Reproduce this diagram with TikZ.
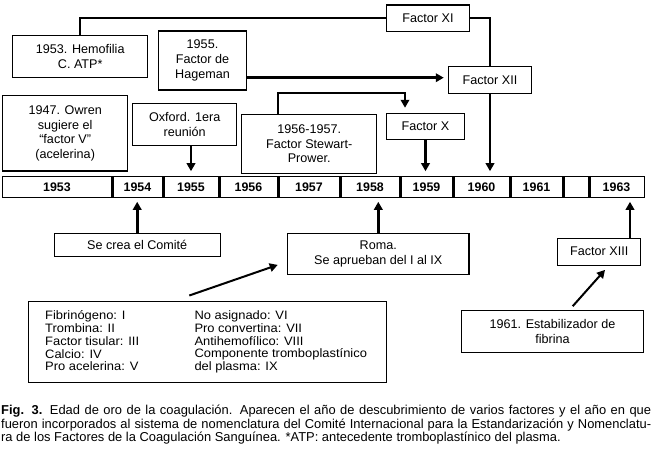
\documentclass[tikz,border=0pt]{standalone}
\usepackage{fontspec}
\setmainfont{Liberation Sans}
\newfontfamily\listfam[FakeStretch=1.06]{Liberation Sans}
\usetikzlibrary{arrows.meta,calc}
\begin{document}
\begin{tikzpicture}[x=1pt,y=-1pt,
  box/.style={draw,line width=1.1pt,inner sep=0pt,align=center,font=\fontsize{12.6}{14.6}\selectfont},
  yr/.style={draw,line width=1pt,inner sep=0pt,minimum height=20.6pt,font=\bfseries\fontsize{12.4}{13}\selectfont},
  arr/.style={line width=2.6pt,-{Triangle[length=8pt,width=8.5pt]}},
  thinarr/.style={line width=2pt,-{Triangle[length=8pt,width=8.5pt]}},
  lnk/.style={line width=2pt},
  divider/.style={line width=2.8pt},
  listtxt/.style={anchor=north west,align=left,inner sep=0pt,font=\listfam\fontsize{12.2}{12.8}\selectfont},
]
\useasboundingbox (0,0) rectangle (653,450);

% timeline
\node[yr,minimum width=110pt] (c1953) at (57,187) {1953};
\node[yr,minimum width=51pt] (c1954) at (137.5,187) {1954};
\node[yr,minimum width=56pt] (c1955) at (191,187) {1955};
\node[yr,minimum width=59pt] (c1956) at (248.5,187) {1956};
\node[yr,minimum width=62pt] (c1957) at (309,187) {1957};
\node[yr,minimum width=60pt] (c1958) at (370,187) {1958};
\node[yr,minimum width=53pt] (c1959) at (426.5,187) {1959};
\node[yr,minimum width=57pt] (c1960) at (481.5,187) {1960};
\node[yr,minimum width=53pt] (c1961) at (536.5,187) {1961};
\node[yr,minimum width=26pt] (c1962) at (576,187) {};
\node[yr,minimum width=55pt] (c1963) at (616.5,187) {1963};
\foreach \c in {c1953,c1954,c1955,c1956,c1957,c1958,c1959,c1960,c1961,c1962}
  \draw[divider] (\c.north east) -- (\c.south east);

% upper boxes
\node[box,minimum width=135pt,minimum height=42.3pt] (hem) at (80.2,56.2) {1953. Hemofilia\\C. ATP*};
\node[box,minimum width=88.4pt,minimum height=59pt] (hag) at (202.5,60.5) {1955.\\Factor de\\Hageman};
\node[box,minimum width=125pt,minimum height=75.3pt] (owr) at (65.2,133.3) {1947. Owren\\sugiere el\\``factor V''\\(acelerina)};
\node[box,minimum width=104pt,minimum height=42.4pt] (oxf) at (184.7,124.5) {Oxford. 1era\\reunión};
\node[box,minimum width=135pt,minimum height=59pt] (stw) at (309.2,143.8) {1956-1957.\\Factor Stewart-\\Prower.};
\node[box,minimum width=82.6pt,minimum height=26.7pt] (fxi) at (428,18.3) {Factor XI};
\node[box,minimum width=83.4pt,minimum height=26.6pt] (f12) at (490,80) {Factor XII};
\node[box,minimum width=77.6pt,minimum height=26pt] (fx) at (425.5,126.3) {Factor X};

% lower boxes
\node[box,minimum width=165.7pt,minimum height=23.4pt] (com) at (137.2,245) {Se crea el Comité};
\node[box,minimum width=181.3pt,minimum height=40.7pt] (roma) at (378.3,253.7) {Roma.\\Se aprueban del I al IX};
\node[box,minimum width=83pt,minimum height=26.7pt] (f13) at (599.2,251.7) {Factor XIII};
\node[box,minimum width=181.6pt,minimum height=42.3pt] (est) at (552.5,331.2) {1961. Estabilizador de\\fibrina};
\node[draw,line width=1.1pt,inner sep=0pt,minimum width=358.4pt,minimum height=80.3pt] (list) at (207.5,341.9) {};
\node[listtxt] (lc1) at (45,310.5) {Fibrinógeno: I\\Trombina: II\\Factor tisular: III\\Calcio: IV\\Pro acelerina: V};
\node[listtxt] (lc2) at (194.3,310.5) {No asignado: VI\\Pro convertina: VII\\Antihemofílico: VIII\\Componente tromboplastínico\\del plasma: IX};

% connectors above
\coordinate (hy) at (0,77.7);
\coordinate (sb) at (278.3,92.7);
\coordinate (sx) at (405,92.7);
\draw[lnk] (hem.north) |- (fxi.west);
\draw[lnk] (fxi.east) -| (f12.north);
\draw[arr,shorten >=5pt] (f12.south) -- (f12.south |- c1960.north);
\draw[arr,shorten >=4pt] (hag.east |- hy) -- (f12.west |- hy);
\draw[thinarr,shorten >=5pt] (stw.north -| sb) -- (sb) -- (sx) -- (sx |- fx.north);
\draw[arr,shorten >=5pt] (fx.south) -- (fx.south |- c1959.north);
\draw[arr,shorten >=5pt] (oxf.south -| c1955.north) -- (c1955.north);

% connectors below
\coordinate (x13) at (630,0);
\draw[arr,shorten >=4pt] (com.north) -- (com.north |- c1954.south);
\draw[arr,shorten >=4pt] (roma.north) -- (roma.north |- c1958.south);
\draw[arr,shorten >=4pt] (f13.north -| x13) -- (x13 |- c1963.south);
\draw[thinarr] ($(list.north)+(-18.2,-5.7)$) -- ($(roma.south west)+(-9.4,-9.7)$);
\draw[thinarr] ($(est.north)+(20.2,-3.3)$) -- ($(f13.south)+(5.8,4.3)$);

% caption
\node[anchor=north west,inner sep=0pt,font=\fontsize{12.9}{13.6}\selectfont] (cap) at (1,405) {\vbox{%
\hbox to 650pt{\textbf{Fig. 3.} Edad de oro de la coagulación. Aparecen el año de descubrimiento de varios factores y el año en que}
\hbox to 650pt{fueron incorporados al sistema de nomenclatura del Comité Internacional para la Estandarización y Nomenclatu-}
\hbox{ra de los Factores de la Coagulación Sanguínea. *ATP: antecedente tromboplastínico del plasma.}}};
\end{tikzpicture}
\end{document}
